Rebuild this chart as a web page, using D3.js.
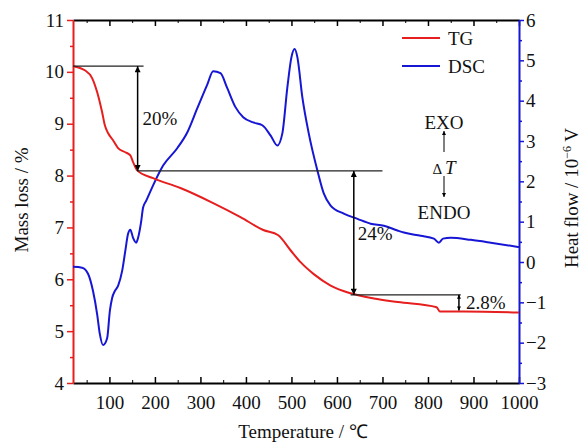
<!DOCTYPE html>
<html>
<head>
<meta charset="utf-8">
<script src="https://cdn.jsdelivr.net/npm/d3@7"></script>
<style>
  body { margin: 0; background: #fff; }
  svg { display: block; }
  svg text { font-family: "Liberation Serif", "Times New Roman", Times, serif; }
</style>
</head>
<body>
<script>
const [W, H] = [585, 444];
const PLOT = { left: 73, right: 519, top: 20, bottom: 383 };
const RED = '#e61e1e', BLUE = '#1616d4';
const FS = 19;

// TG: temperature (°C) vs mass (%)
const tgTemp = [20, 46, 62, 73, 84, 90, 97, 108, 119, 135, 146, 152, 161, 196, 256, 328, 388, 438, 471, 498, 520, 549, 586, 630, 681, 734, 819, 826, 879, 1000];
const tgMass = [10.11, 10.03, 9.88, 9.61, 9.22, 8.97, 8.82, 8.68, 8.53, 8.45, 8.39, 8.26, 8.10, 7.95, 7.76, 7.47, 7.20, 6.95, 6.85, 6.56, 6.33, 6.10, 5.88, 5.73, 5.63, 5.56, 5.46, 5.38, 5.38, 5.36];

// DSC: temperature (°C) vs heat flow (10^-6 V)
const dscTemp = [20, 40, 53, 64, 73, 79, 86, 95, 101, 106, 112, 119, 128, 135, 141, 146, 152, 159, 163, 170, 174, 181, 196, 218, 249, 271, 293, 315, 328, 344, 359, 377, 394, 416, 436, 454, 469, 480, 491, 500, 507, 513, 524, 538, 557, 571, 586, 615, 645, 674, 703, 733, 747, 784, 813, 824, 833, 850, 894, 938, 1000];
const dscFlow = [-0.12, -0.14, -0.29, -0.72, -1.29, -1.79, -2.06, -1.89, -1.21, -0.89, -0.72, -0.59, -0.22, 0.28, 0.70, 0.80, 0.60, 0.48, 0.60, 1.02, 1.35, 1.52, 1.90, 2.39, 2.82, 3.21, 3.81, 4.40, 4.73, 4.68, 4.31, 3.84, 3.59, 3.46, 3.39, 3.14, 2.89, 3.19, 4.33, 5.08, 5.28, 5.08, 4.08, 3.19, 2.27, 1.70, 1.40, 1.20, 1.07, 0.95, 0.90, 0.78, 0.73, 0.65, 0.58, 0.48, 0.58, 0.60, 0.55, 0.48, 0.37];

const xTicks = [100, 200, 300, 400, 500, 600, 700, 800, 900, 1000];
const leftTicks = [4, 5, 6, 7, 8, 9, 10, 11];
const rightTicks = [-3, -2, -1, 0, 1, 2, 3, 4, 5, 6];

// mass-loss steps: horizontal guide lines and the arrows between them
const guideFrom = [20, 161, 630];
const guideTo = [175, 700, 872];
const guideMass = [10.11, 8.09, 5.70];
const arrowTemp = [162, 637, 868];
const arrowTop = [10.11, 8.09, 5.70];
const arrowBottom = [8.09, 5.70, 5.40];
const arrowText = ['20%', '24%', '2.8%'];

const svg = d3.select('body').append('svg').attr('width', W).attr('height', H);

const x = d3.scaleLinear().domain([20, 1000]).range([PLOT.left, PLOT.right]);
const yL = d3.scaleLinear().domain([4, 11]).range([PLOT.bottom, PLOT.top]);
const yR = d3.scaleLinear().domain([-3, 6]).range([PLOT.bottom, PLOT.top]);

const halves = (a, b) => d3.range(a + 0.5, b, 1);
const fmt = d3.format('d');

function styleAxis(g, color) {
    g.attr('font-family', null).attr('font-size', null);
    g.selectAll('path').attr('stroke', color).attr('stroke-width', 2);
    g.selectAll('line').attr('stroke', color).attr('stroke-width', 1.5);
    g.selectAll('text').attr('fill', '#111').style('font-size', FS + 'px');
}

// top & bottom (black)
svg.append('g').attr('transform', `translate(0,${PLOT.top})`)
    .call(d3.axisTop(x).tickValues(xTicks).tickSize(-6).tickSizeOuter(0).tickFormat(''))
    .call(g => styleAxis(g, '#000'));
svg.append('g').attr('transform', `translate(0,${PLOT.top})`)
    .call(d3.axisTop(x).tickValues(d3.range(50, 1000, 100)).tickSize(-3).tickSizeOuter(0).tickFormat(''))
    .call(g => g.select('path').remove())
    .call(g => g.selectAll('line').attr('stroke', '#000'));

svg.append('g').attr('transform', `translate(0,${PLOT.bottom})`)
    .call(d3.axisBottom(x).tickValues(xTicks).tickSize(-6).tickSizeOuter(0).tickPadding(13).tickFormat(fmt))
    .call(g => styleAxis(g, '#000'));
svg.append('g').attr('transform', `translate(0,${PLOT.bottom})`)
    .call(d3.axisBottom(x).tickValues(d3.range(50, 1000, 100)).tickSize(-3).tickSizeOuter(0).tickFormat(''))
    .call(g => g.select('path').remove())
    .call(g => g.selectAll('line').attr('stroke', '#000'));

// left (red)
svg.append('g').attr('transform', `translate(${PLOT.left},0)`)
    .call(d3.axisLeft(yL).tickValues(leftTicks).tickSize(6).tickSizeOuter(0).tickPadding(3).tickFormat(fmt))
    .call(g => styleAxis(g, RED));
svg.append('g').attr('transform', `translate(${PLOT.left},0)`)
    .call(d3.axisLeft(yL).tickValues(halves(4, 11)).tickSize(3).tickFormat(''))
    .call(g => g.select('path').remove())
    .call(g => g.selectAll('line').attr('stroke', RED).attr('stroke-width', 1.5));

// right (blue)
svg.append('g').attr('transform', `translate(${PLOT.right},0)`)
    .call(d3.axisRight(yR).tickValues(rightTicks).tickSize(5).tickSizeOuter(0).tickPadding(2).tickFormat(fmt))
    .call(g => styleAxis(g, BLUE));
svg.append('g').attr('transform', `translate(${PLOT.right},0)`)
    .call(d3.axisRight(yR).tickValues(halves(-3, 6)).tickSize(3).tickFormat(''))
    .call(g => g.select('path').remove())
    .call(g => g.selectAll('line').attr('stroke', BLUE).attr('stroke-width', 1.5));

// curves
const tg = tgTemp.map((t, i) => [t, tgMass[i]]);
const dsc = dscTemp.map((t, i) => [t, dscFlow[i]]);

svg.append('path').datum(dsc)
    .attr('fill', 'none').attr('stroke', BLUE).attr('stroke-width', 2)
    .attr('d', d3.line().x(d => x(d[0])).y(d => yR(d[1])).curve(d3.curveMonotoneX));
svg.append('path').datum(tg)
    .attr('fill', 'none').attr('stroke', RED).attr('stroke-width', 2)
    .attr('d', d3.line().x(d => x(d[0])).y(d => yL(d[1])).curve(d3.curveMonotoneX));

// arrow markers
const defs = svg.append('defs');
defs.append('marker').attr('id', 'head')
    .attr('viewBox', '0 0 10 10').attr('refX', 10).attr('refY', 5)
    .attr('markerWidth', 10).attr('markerHeight', 6).attr('markerUnits', 'userSpaceOnUse')
    .attr('orient', 'auto-start-reverse')
    .append('path').attr('d', 'M0,0 L10,5 L0,10 Z').attr('fill', '#000');
defs.append('marker').attr('id', 'headS')
    .attr('viewBox', '0 0 10 10').attr('refX', 10).attr('refY', 5)
    .attr('markerWidth', 6).attr('markerHeight', 4).attr('markerUnits', 'userSpaceOnUse')
    .attr('orient', 'auto-start-reverse')
    .append('path').attr('d', 'M0,0 L10,5 L0,10 Z').attr('fill', '#000');

// guide lines
guideMass.forEach((m, i) => {
    svg.append('line')
        .attr('x1', x(guideFrom[i])).attr('x2', x(guideTo[i]))
        .attr('y1', yL(m)).attr('y2', yL(m))
        .attr('stroke', '#222').attr('stroke-width', 1.2);
});

// double arrows + labels
const labelDx = [5, 4, 7];
arrowTemp.forEach((t, i) => {
    svg.append('line')
        .attr('x1', x(t)).attr('x2', x(t))
        .attr('y1', yL(arrowTop[i])).attr('y2', yL(arrowBottom[i]))
        .attr('stroke', '#000').attr('stroke-width', 1.5)
        .attr('marker-start', i === 2 ? 'url(#headS)' : 'url(#head)')
        .attr('marker-end', i === 2 ? 'url(#headS)' : 'url(#head)');
    svg.append('text')
        .attr('x', x(t) + labelDx[i])
        .attr('y', (yL(arrowTop[i]) + yL(arrowBottom[i])) / 2)
        .attr('dy', '0.35em')
        .style('font-size', FS + 'px').attr('fill', '#111')
        .text(arrowText[i]);
});

// legend
const legend = [['TG', RED], ['DSC', BLUE]];
legend.forEach(([name, color], i) => {
    const ly = 38 + i * 28;
    svg.append('line').attr('x1', 402).attr('x2', 440).attr('y1', ly).attr('y2', ly)
        .attr('stroke', color).attr('stroke-width', 2);
    svg.append('text').attr('x', 448).attr('y', ly).attr('dy', '0.35em')
        .style('font-size', FS + 'px').attr('fill', '#111').text(name);
});

// EXO / ΔT / ENDO
const ex = 444;
svg.append('text').attr('x', ex).attr('y', 122).attr('dy', '0.35em').attr('text-anchor', 'middle')
    .style('font-size', FS + 'px').attr('fill', '#111').text('EXO');
svg.append('line').attr('x1', ex).attr('x2', ex).attr('y1', 152).attr('y2', 131)
    .attr('stroke', '#000').attr('stroke-width', 1).attr('marker-end', 'url(#headS)');
const dT = svg.append('text').attr('x', ex).attr('y', 167).attr('dy', '0.35em').attr('text-anchor', 'middle')
    .style('font-size', FS + 'px').attr('fill', '#111');
dT.append('tspan').style('font-size', '15px').text('Δ ');
dT.append('tspan').style('font-style', 'italic').text('T');
svg.append('line').attr('x1', ex).attr('x2', ex).attr('y1', 176).attr('y2', 197)
    .attr('stroke', '#000').attr('stroke-width', 1).attr('marker-end', 'url(#headS)');
svg.append('text').attr('x', ex).attr('y', 212).attr('dy', '0.35em').attr('text-anchor', 'middle')
    .style('font-size', FS + 'px').attr('fill', '#111').text('ENDO');

// axis titles
svg.append('text').attr('text-anchor', 'middle')
    .attr('transform', `translate(28,200) rotate(-90)`)
    .style('font-size', FS + 'px').attr('fill', '#111').text('Mass loss / %');

const rt = svg.append('text').attr('text-anchor', 'middle')
    .attr('transform', `translate(578,198) rotate(-90)`)
    .style('font-size', FS + 'px').attr('fill', '#111');
rt.append('tspan').text('Heat flow / 10');
rt.append('tspan').attr('dy', -7).style('font-size', '12px').text('−6');
rt.append('tspan').attr('dy', 7).text(' V');

svg.append('text').attr('text-anchor', 'middle')
    .attr('x', 303).attr('y', 438)
    .style('font-size', FS + 'px').attr('fill', '#111').text('Temperature / ℃');
</script>
</body>
</html>
